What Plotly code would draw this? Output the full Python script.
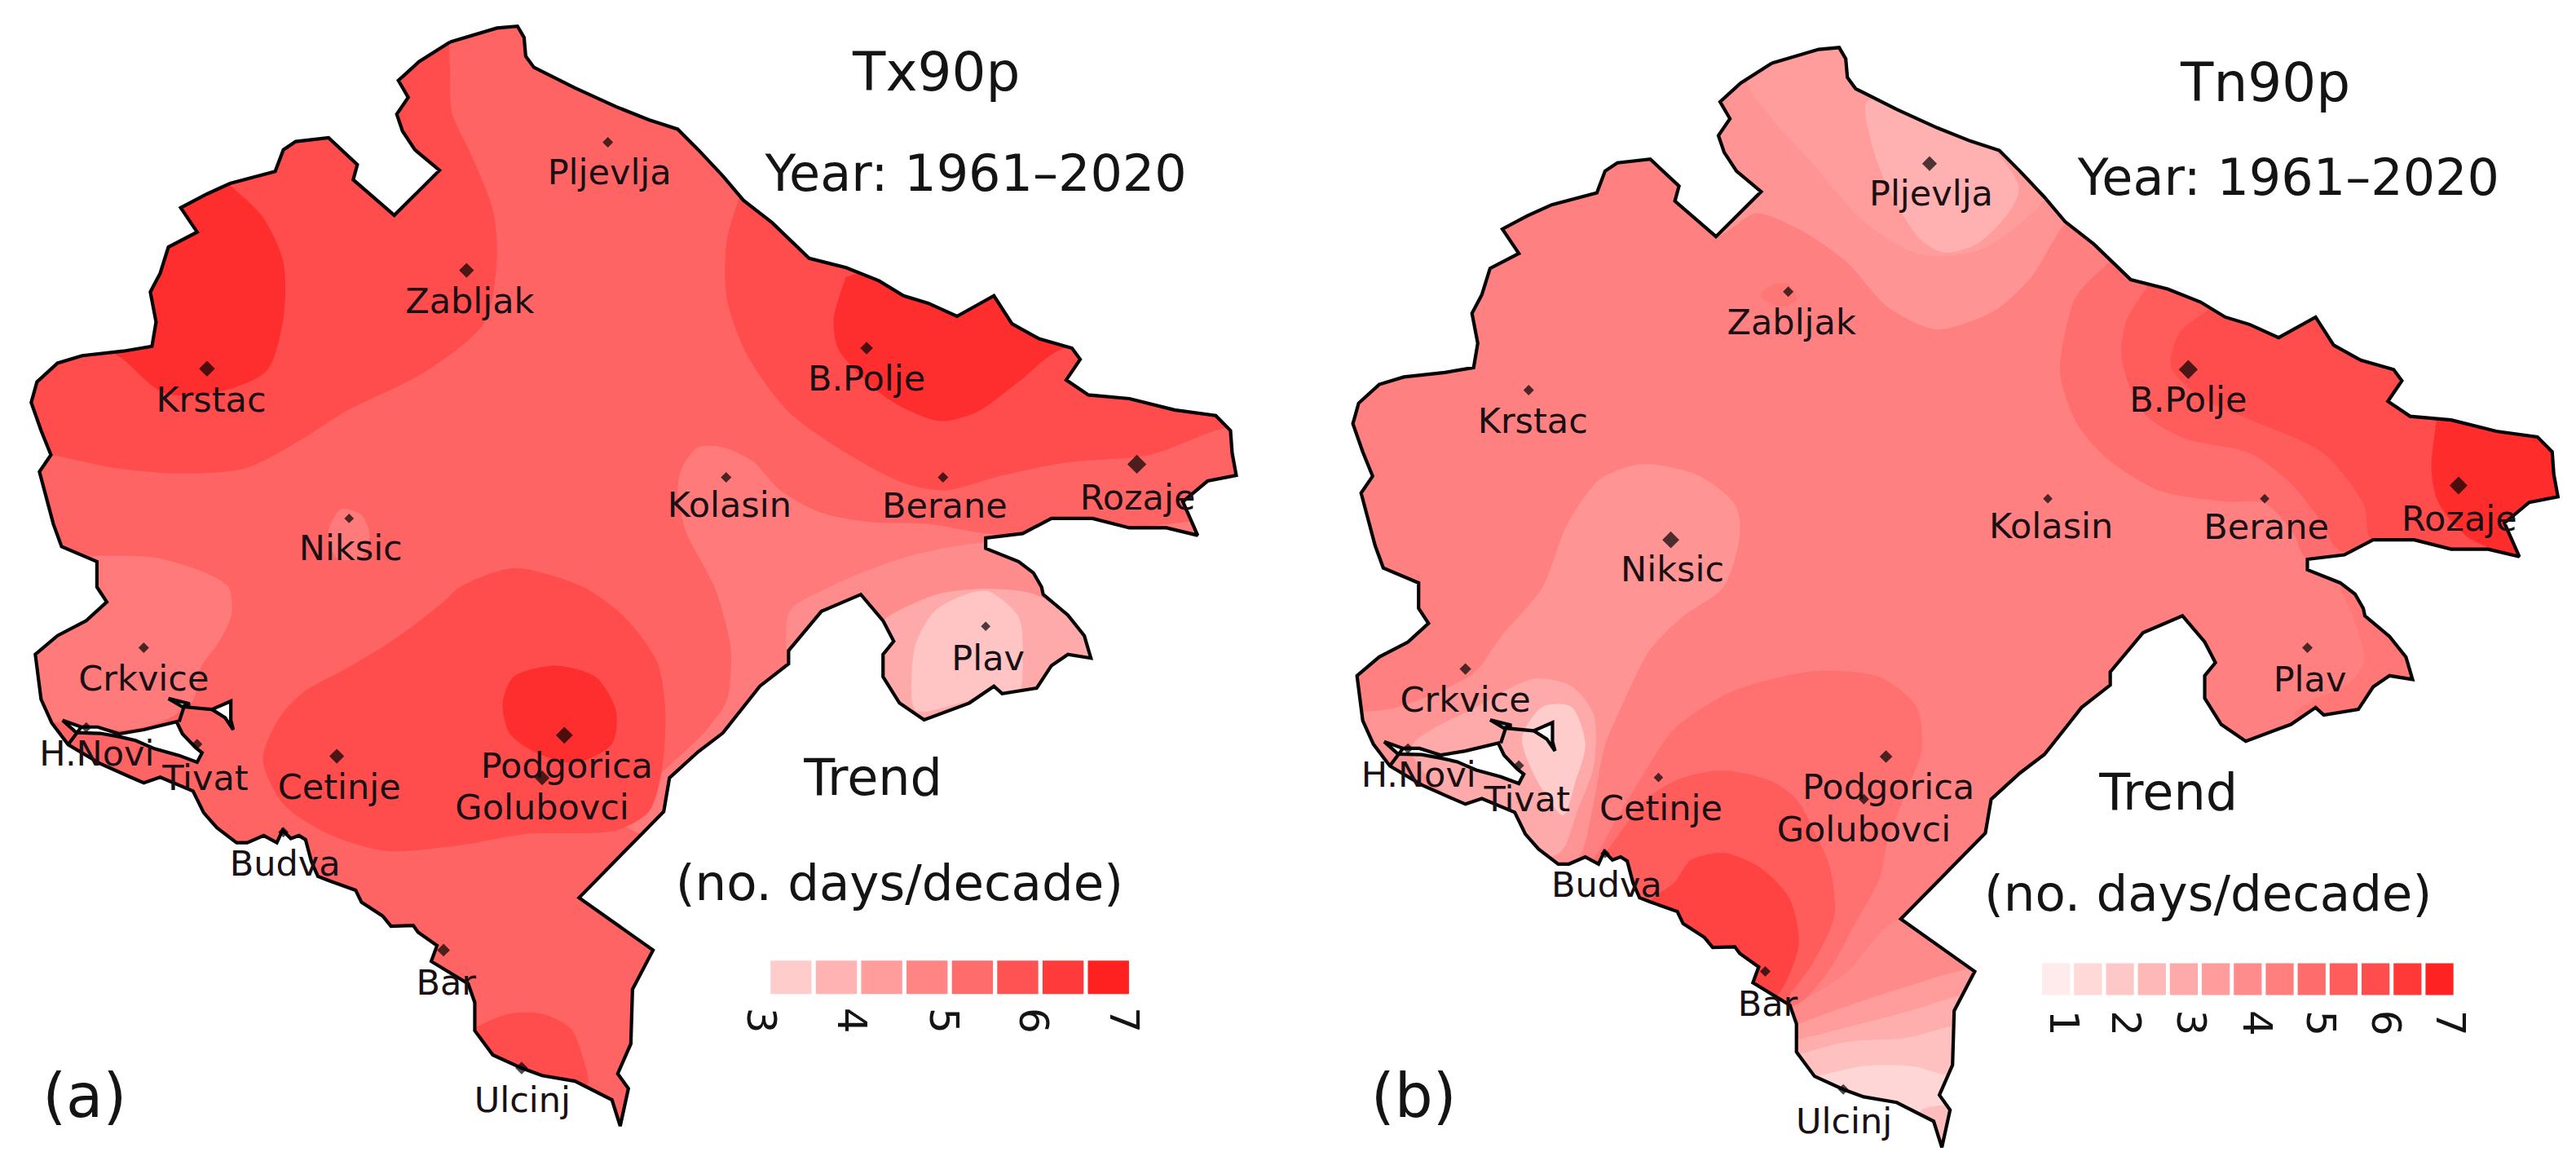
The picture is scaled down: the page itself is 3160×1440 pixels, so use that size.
import plotly.graph_objects as go

FONT = "DejaVu Sans"
INK = "#141414"


def low(points):
    return [(x, y + 1568) for x, y in points]


# ---- country outline (map units) -------------------------------------------
OUTLINE = (
    [(548, 112), (575, 95), (605, 75), (630, 70), (638, 100), (640, 150), (650, 180), (700, 235), (750, 285),
     (790, 320), (825, 345), (850, 400), (880, 470), (905, 535), (940, 595), (985, 690), (1030, 715), (1070, 750),
     (1100, 790), (1130, 810), (1165, 845), (1210, 790), (1232, 865), (1265, 905), (1305, 930), (1315, 960),
     (1298, 1015), (1325, 1055), (1375, 1065), (1430, 1095), (1480, 1110), (1498, 1150), (1500, 1210), (1505, 1270),
     (1470, 1285), (1440, 1340), (1458, 1430), (1420, 1410), (1375, 1410), (1330, 1385), (1280, 1385), (1245, 1425),
     (1200, 1437), (1200, 1465), (1240, 1500), (1258, 1530), (1268, 1568)]
    + low([(1270, 20), (1300, 75), (1320, 130), (1328, 190), (1300, 180), (1280, 210), (1262, 270), (1220, 285),
           (1210, 265), (1180, 310), (1125, 355), (1095, 310), (1075, 240), (1075, 180), (1088, 145), (1075, 90),
           (1048, 20), (1000, 65), (960, 170), (960, 205), (925, 265), (880, 390), (850, 440), (815, 510), (808, 600),
           (705, 830), (795, 970), (770, 1075), (768, 1220), (752, 1300), (765, 1340), (755, 1440), (745, 1370),
           (700, 1320), (660, 1305), (635, 1285), (600, 1250), (578, 1185), (578, 1110), (570, 1060), (525, 1000)])
    + [(532, 2526), (509, 2490), (503, 2472), (476, 2474), (466, 2447), (440, 2410), (433, 2378), (400, 2352),
       (387, 2341), (379, 2301), (372, 2243), (364, 2232), (354, 2240), (344, 2218), (337, 2251), (321, 2232),
       (301, 2251), (288, 2251), (264, 2211), (248, 2171), (235, 2113), (195, 2076), (175, 2091), (159, 2076),
       (122, 2040), (83, 1989), (63, 1931), (50, 1868), (43, 1748), (70, 1698), (105, 1658), (130, 1608), (118, 1568),
       (118, 1500), (75, 1460), (65, 1400), (48, 1260), (62, 1215), (50, 1150), (38, 1075), (45, 1020), (70, 970),
       (100, 950), (150, 938), (185, 925), (190, 860), (183, 780), (195, 730), (205, 660), (240, 620), (220, 555),
       (250, 520), (280, 490), (335, 458), (345, 400), (360, 378), (400, 368), (435, 440), (430, 480), (480, 575),
       (535, 455), (505, 400), (490, 350), (483, 305), (497, 260), (485, 215), (510, 165), (548, 112)]
)
BAY_MAIN = [(76, 1924), (99, 1942), (119, 1942), (145, 1960), (175, 1949), (215, 1928), (222, 1960), (238, 1997),
            (246, 2011), (240, 2036), (218, 2018), (188, 2000), (165, 1978), (145, 1968), (122, 1959), (93, 1957),
            (76, 1924)]
BAY_RISAN = [(258, 1895), (281, 1873), (281, 1924), (284, 1949), (274, 1917), (258, 1895)]
BAY_NECK = [(205, 1866), (231, 1880), (222, 1888), (205, 1866)]
BAY_LINKS = [(218, 1928), (224, 1888), (258, 1895)]
BAY_STRAIT = [(99, 1942), (83, 1989)]

# ---- stations ---------------------------------------------------------------
STATIONS = ["Pljevlja", "Zabljak", "Krstac", "B.Polje", "Kolasin", "Berane", "Rozaje", "Niksic", "Crkvice", "H.Novi",
            "Tivat", "Cetinje", "Podgorica", "Golubovci", "Budva", "Bar", "Ulcinj", "Plav"]
DOT_X = [740, 568, 252, 1055, 884, 1148, 1384, 425, 175, 105, 240, 410, 687, 660, 345, 540, 635, 1200]
DOT_Y = [380, 722, 985, 930, 1275, 1275, 1240, 1385, 1730, 1943, 1988, 2020, 1964, 2078, 2223, 2538, 2853, 1673]
LABEL_X = [742, 572, 257, 1055, 888, 1150, 1385, 427, 175, 118, 250, 413, 690, 660, 347, 543, 636, 1203]
LABEL_Y = [468, 813, 1076, 1020, 1358, 1360, 1338, 1473, 1821, 2021, 2086, 2111, 2054, 2166, 2316, 2634, 2946, 1766]
DOT_SIZE_A = [10, 14, 15, 12, 10, 10, 18, 9, 10, 10, 10, 14, 16, 14, 10, 12, 12, 9]
DOT_SIZE_B = [14, 10, 10, 18, 9, 9, 17, 16, 11, 10, 10, 9, 12, 10, 9, 10, 10, 10]

# ---- panel (a) filled bands -------------------------------------------------
A_BASE = "#ff6464"
A_NW = [(545, 0), (548, 200), (550, 300), (575, 420), (600, 560), (605, 690), (590, 860), (520, 990), (420, 1100),
        (370, 1170), (300, 1250), (220, 1265), (140, 1250), (60, 1215), (0, 1210), (0, 0)]
A_NW_CORE = [(250, 440), (280, 495), (320, 580), (345, 700), (345, 850), (325, 990), (270, 1045), (200, 1050),
             (150, 960), (125, 920), (60, 700), (120, 450)]
A_NE = [(905, 500), (885, 640), (885, 800), (910, 950), (960, 1100), (1030, 1210), (1100, 1290), (1150, 1310),
        (1220, 1270), (1300, 1235), (1400, 1215), (1480, 1150), (1600, 1080), (1600, 400), (1000, 400)]
A_NE_CORE = [(1030, 740), (1015, 850), (1020, 930), (1060, 1030), (1100, 1090), (1145, 1125), (1190, 1100),
             (1240, 1020), (1290, 935), (1380, 900), (1350, 720), (1150, 650)]
A_LIGHT_E = [(850, 1195), (880, 1195), (915, 1230), (950, 1310), (1000, 1370), (1060, 1395), (1130, 1400),
             (1200, 1425), (1300, 1430), (1600, 1420), (1600, 2200), (760, 2200), (860, 1950), (885, 1870),
             (890, 1740), (885, 1680), (870, 1568), (835, 1420), (825, 1320), (830, 1250), (850, 1195)]
A_LIGHT_N = [(400, 1420), (415, 1360), (440, 1375), (450, 1430), (440, 1490), (410, 1490), (400, 1420)]
A_LIGHT_W = [(0, 1500), (120, 1485), (190, 1490), (250, 1530), (278, 1568), (282, 1640), (265, 1720), (245, 1780),
             (235, 1870), (200, 1925), (150, 1950), (75, 1930), (0, 1930)]
A_CENTRAL = low([(340, 350), (320, 460), (345, 580), (400, 660), (470, 705), (560, 690), (640, 660), (750, 650),
                 (790, 600), (805, 500), (810, 330), (800, 200), (760, 80), (710, 0), (625, -50), (560, 0), (540, 40),
                 (480, 140), (420, 220), (370, 280), (340, 350)])
A_CENTRAL_CORE = low([(612, 310), (625, 240), (675, 210), (725, 240), (750, 330), (745, 420), (700, 470), (650, 440),
                      (620, 390), (612, 310)])
A_SOUTH = low([(585, 1170), (620, 1140), (660, 1140), (695, 1180), (710, 1260), (715, 1330), (650, 1352), (560, 1332),
               (550, 1212), (585, 1170)])
A_PLAV_OUT = [(960, 1640), (1010, 1568), (1100, 1490), (1195, 1450), (1400, 1450), (1500, 2000), (1000, 2000),
              (960, 1640)]
A_PLAV_MID = low([(1075, 90), (1140, 20), (1200, 5), (1260, 20), (1320, 110), (1345, 200), (1300, 300), (1120, 370),
                  (1060, 300), (1060, 150), (1075, 90)])
A_PLAV_CORE = low([(1115, 150), (1140, 60), (1200, 10), (1240, 80), (1245, 180), (1240, 280), (1200, 290), (1115, 330),
                   (1110, 230), (1115, 150)])
A_BANDS = [("#ff4c4c", A_NW), ("#ff2e2e", A_NW_CORE), ("#ff4c4c", A_NE), ("#ff2e2e", A_NE_CORE),
           ("#ff7b7b", A_LIGHT_E), ("#ff7b7b", A_LIGHT_N), ("#ff7b7b", A_LIGHT_W),
           ("#ff4c4c", A_CENTRAL), ("#ff2e2e", A_CENTRAL_CORE), ("#ff4c4c", A_SOUTH),
           ("#ff8c8c", A_PLAV_OUT), ("#ffaaaa", A_PLAV_MID), ("#ffc4c4", A_PLAV_CORE)]

# ---- panel (b) filled bands -------------------------------------------------
B_BASE = "#ff8080"
B_N1 = [(520, 630), (570, 570), (620, 610), (680, 700), (730, 820), (790, 880), (860, 830), (905, 740), (945, 600),
        (1000, 500), (1000, 100), (500, 100), (480, 500), (520, 630)]
B_N2 = [(560, 210), (590, 320), (640, 440), (700, 590), (770, 680), (840, 670), (890, 600), (930, 500), (900, 300),
        (700, 100), (560, 210)]
B_N3 = [(705, 270), (710, 380), (730, 500), (770, 640), (800, 675), (840, 650), (880, 560), (890, 500), (860, 400),
        (800, 300), (705, 270)]
B_ZAB = [(575, 790), (590, 760), (610, 760), (620, 800), (600, 820), (575, 790)]
B_NE1 = [(1000, 700), (960, 790), (945, 900), (940, 1000), (960, 1130), (1000, 1230), (1060, 1310), (1140, 1340),
         (1190, 1345), (1225, 1430), (1240, 1490), (1600, 1500), (1600, 500), (1000, 500)]
B_NE2 = [(1045, 770), (1020, 860), (1015, 960), (1040, 1100), (1090, 1170), (1170, 1210), (1220, 1290), (1260, 1400),
         (1280, 1470), (1600, 1470), (1600, 500), (1045, 500)]
B_NE3 = [(1120, 830), (1085, 890), (1075, 980), (1110, 1060), (1170, 1120), (1260, 1210), (1310, 1350), (1320, 1445),
         (1600, 1510), (1600, 600), (1120, 600)]
B_NE4 = [(1400, 1100), (1392, 1250), (1400, 1340), (1440, 1440), (1600, 1520), (1600, 1100)]
B_PLAV = low([(1280, 0), (1300, 100), (1310, 200), (1290, 260), (1250, 300), (1225, 340), (1400, 400), (1400, 0)])
B_SW1 = [(340, 1400), (380, 1280), (430, 1240), (500, 1270), (545, 1350), (550, 1430), (530, 1568), (480, 1648),
         (440, 1738), (410, 1868), (385, 1998), (370, 2168), (350, 2300), (250, 2300), (0, 2200), (0, 1900),
         (100, 1900), (135, 1888), (225, 1800), (260, 1698), (310, 1568), (340, 1400)]
B_SW2 = low([(230, 320), (300, 245), (345, 265), (372, 340), (372, 480), (352, 600), (335, 700), (320, 720),
             (210, 590), (150, 430), (230, 320)])
B_SW3 = low([(285, 400), (310, 320), (345, 320), (362, 420), (350, 520), (335, 610), (315, 560), (295, 480),
             (285, 400)])
B_C1 = low([(640, 225), (720, 240), (765, 320), (772, 430), (750, 560), (730, 680), (720, 780), (690, 900), (660, 1020),
            (625, 1110), (600, 1140), (300, 1000), (380, 700), (395, 640), (430, 510), (470, 380), (540, 280),
            (640, 225)])
B_C2 = low([(530, 490), (590, 520), (620, 570), (640, 650), (660, 750), (665, 880), (640, 1000), (610, 1090),
            (590, 1130), (300, 1000), (390, 700), (440, 560), (480, 510), (530, 490)])
B_C3 = low([(530, 710), (575, 750), (610, 830), (622, 950), (605, 1060), (585, 1110), (400, 1000), (440, 840),
            (470, 790), (490, 730), (530, 710)])
B_S0 = low([(615, 1120), (680, 1030), (740, 890), (850, 870), (900, 1000), (900, 1600), (500, 1600), (500, 1130)])
B_S1 = low([(618, 1170), (680, 1120), (750, 1070), (830, 1020), (900, 1020), (900, 1600), (500, 1600), (500, 1170)])
B_S2 = low([(620, 1210), (700, 1165), (760, 1130), (820, 1090), (900, 1060), (900, 1600), (500, 1600), (500, 1210)])
B_S3 = low([(620, 1250), (680, 1215), (750, 1205), (815, 1170), (900, 1150), (900, 1600), (500, 1600), (500, 1250)])
B_S4 = low([(640, 1310), (700, 1280), (760, 1280), (805, 1305), (900, 1300), (900, 1600), (500, 1600), (500, 1310)])
B_S5 = low([(770, 1400), (810, 1390), (815, 1520), (780, 1520), (770, 1400)])
B_BANDS = [("#ff9494", B_N1), ("#ff9c9c", B_N2), ("#ffb0b0", B_N3), ("#ff7676", B_ZAB),
           ("#ff6e6e", B_NE1), ("#ff5c5c", B_NE2), ("#ff4c4c", B_NE3), ("#ff2c2c", B_NE4), ("#ff7777", B_PLAV),
           ("#ff9494", B_SW1), ("#ffaaaa", B_SW2), ("#ffcccc", B_SW3),
           ("#ff7070", B_C1), ("#ff5c5c", B_C2), ("#ff4242", B_C3),
           ("#ff8a8a", B_S0), ("#ff9c9c", B_S1), ("#ffaeae", B_S2), ("#ffc0c0", B_S3), ("#ffd6d6", B_S4),
           ("#ffbcbc", B_S5)]

# ---- legends ----------------------------------------------------------------
LEGEND_A_COLORS = ["#ffcccc", "#ffb3b3", "#ff9c9c", "#ff8484", "#ff6c6c", "#ff5252", "#ff3a3a", "#ff2020"]
LEGEND_A_TICKS = ["3", "4", "5", "6", "7"]
LEGEND_A_TICK_X = [927, 1037, 1149, 1259, 1369]
LEGEND_B_COLORS = ["#ffebeb", "#ffd8d8", "#ffc8c8", "#ffb8b8", "#ffaaaa", "#ff9c9c", "#ff8c8c", "#ff7e7e", "#ff6c6c",
                   "#ff5c5c", "#ff4c4c", "#ff3838", "#ff2222"]
LEGEND_B_TICKS = ["1", "2", "3", "4", "5", "6", "7"]
LEGEND_B_TICK_X = [945, 1020, 1100, 1180, 1257, 1337, 1415]

# ---- panel captions ---------------------------------------------------------
PANEL_A_TEXT = [("Tx90p", 1140, 206, 66), ("Year: 1961–2020", 1188, 476, 62), ("Trend", 1063, 2090, 62),
                ("(no. days/decade)", 1095, 2370, 61), ("(a)", 103, 2943, 74)]
PANEL_B_TEXT = [("Tn90p", 1190, 234, 66), ("Year: 1961–2020", 1218, 486, 62), ("Trend", 1072, 2128, 62),
                ("(no. days/decade)", 1120, 2400, 61), ("(b)", 153, 2943, 74)]

SHEET_W, SHEET_H = 1568, 3136
PANEL_B_SHIFT = (41, 57)
BORDER = dict(color="#050505", width=4.2)


def xy(points, shift=(0, 0)):
    return [p[0] + shift[0] for p in points], [p[1] + shift[1] for p in points]


def signed_area(points):
    return sum(points[i][0] * points[(i + 1) % len(points)][1] - points[(i + 1) % len(points)][0] * points[i][1]
               for i in range(len(points)))


fig = go.Figure()


def add_panel(xa, ya, base, bands, shift, sizes, captions, colors, swatch, ticks, tick_x, tick_y):
    common = dict(xaxis=xa, yaxis=ya, hoverinfo="skip", showlegend=False)
    ox, oy = xy(OUTLINE, shift)
    fig.add_trace(go.Scatter(x=ox, y=oy, mode="lines", fill="toself", fillcolor=base, line=dict(width=0), **common))
    for color, poly in bands:
        px, py = xy(poly)
        fig.add_trace(go.Scatter(x=px, y=py, mode="lines", fill="toself", fillcolor=color,
                                 line=dict(width=0, shape="spline", smoothing=0.8), **common))
    # white sheet with the country cut out, trims the bands to the border
    rect = [(-60, -60), (SHEET_W + 60, -60), (SHEET_W + 60, SHEET_H + 60), (-60, SHEET_H + 60), (-60, -60)]
    hole = OUTLINE if signed_area(OUTLINE) * signed_area(rect) < 0 else OUTLINE[::-1]
    rx, ry = xy(rect)
    hx, hy = xy(hole, shift)
    fig.add_trace(go.Scatter(x=rx + [None] + hx, y=ry + [None] + hy, mode="lines", fill="toself", fillcolor="white",
                             line=dict(width=0), **common))
    fig.add_trace(go.Scatter(x=ox, y=oy, mode="lines", line=BORDER, **common))
    for water in (BAY_MAIN, BAY_RISAN, BAY_NECK):
        wx, wy = xy(water, shift)
        fig.add_trace(go.Scatter(x=wx, y=wy, mode="lines", fill="toself", fillcolor="white", line=BORDER, **common))
    for link in (BAY_LINKS, BAY_STRAIT):
        lx, ly = xy(link, shift)
        fig.add_trace(go.Scatter(x=lx, y=ly, mode="lines", line=BORDER, **common))
    # legend swatches
    left, step, width, top, bottom = swatch
    for i, color in enumerate(colors):
        a, b = left + i * step, left + i * step + width
        fig.add_trace(go.Scatter(x=[a, b, b, a, a], y=[top, top, bottom, bottom, top], mode="lines", fill="toself",
                                 fillcolor=color, line=dict(width=0), **common))
    fig.add_trace(go.Scatter(x=[x + shift[0] for x in DOT_X], y=[y + shift[1] for y in DOT_Y], mode="markers",
                             marker=dict(symbol="diamond", size=sizes, color="#000000", line=dict(width=0)), **common))
    fig.add_trace(go.Scatter(x=[x + shift[0] for x in LABEL_X], y=[y + shift[1] for y in LABEL_Y], mode="text",
                             text=STATIONS, textposition="middle center",
                             textfont=dict(family=FONT, size=43, color="#1a1014"), **common))
    for text, x, y, size in captions:
        fig.add_trace(go.Scatter(x=[x], y=[y], mode="text", text=[text], textposition="middle center",
                                 textfont=dict(family=FONT, size=size, color=INK), **common))
    for label, x in zip(ticks, tick_x):
        fig.add_annotation(xref=xa, yref=ya, x=x, y=tick_y, text=label, showarrow=False, textangle=90,
                           font=dict(family=FONT, size=50, color=INK))


add_panel("x", "y", A_BASE, A_BANDS, (0, 0), DOT_SIZE_A, PANEL_A_TEXT, LEGEND_A_COLORS,
          (938, 55.2, 50, 2566, 2655), LEGEND_A_TICKS, LEGEND_A_TICK_X, 2726)
add_panel("x2", "y2", B_BASE, B_BANDS, PANEL_B_SHIFT, DOT_SIZE_B, PANEL_B_TEXT, LEGEND_B_COLORS,
          (918, 38.9, 34, 2573, 2658), LEGEND_B_TICKS, LEGEND_B_TICK_X, 2733)

axis = dict(visible=False, fixedrange=True, showgrid=False, zeroline=False)
fig.update_layout(
    width=3160, height=1440, margin=dict(l=0, r=0, t=0, b=0), autosize=False,
    paper_bgcolor="white", plot_bgcolor="white", showlegend=False,
    xaxis=dict(domain=[0, 0.5], range=[0, SHEET_W], **axis),
    yaxis=dict(domain=[0, 1], range=[SHEET_H, 0], **axis),
    xaxis2=dict(domain=[0.5, 1], range=[0, SHEET_W], anchor="y2", **axis),
    yaxis2=dict(domain=[0, 1], range=[SHEET_H, 0], anchor="x2", **axis),
)
fig.write_html("out.html", config={"displayModeBar": False},
               post_script="document.body.style.margin='0';document.body.style.overflow='hidden';")
